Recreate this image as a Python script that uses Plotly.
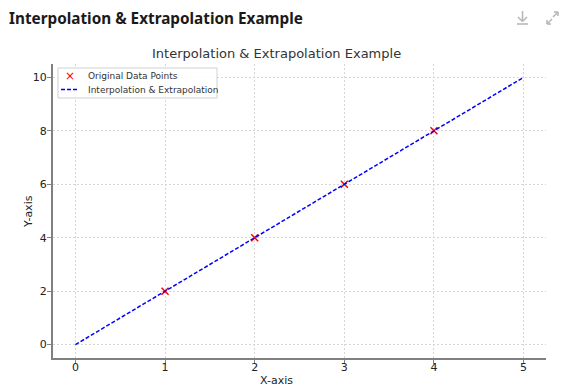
import plotly.graph_objects as go

# Data
data_x = [1, 2, 3, 4]
data_y = [2, 4, 6, 8]
line_x = [0, 1, 2, 3, 4, 5]
line_y = [0, 2, 4, 6, 8, 10]
x_ticks = [0, 1, 2, 3, 4, 5]
y_ticks = [0, 2, 4, 6, 8, 10]
series_names = ["Original Data Points", "Interpolation & Extrapolation"]

W, H = 566, 392
L, R, T, B = 53, 20, 64, 34
pw, ph = W - L - R, H - T - B

def px(x):
    return (x - L) / pw

def py(y):
    return (H - B - y) / ph

fig = go.Figure()
fig.add_trace(go.Scatter(
    x=data_x, y=data_y, mode="markers", name=series_names[0],
    marker=dict(symbol="x-thin", size=7, color="red", line=dict(color="red", width=1.5)),
))
fig.add_trace(go.Scatter(
    x=line_x, y=line_y, mode="lines", name=series_names[1],
    line=dict(color="blue", width=1.5, dash="4px,2px"),
))

axis_common = dict(
    showline=True, linecolor="#808080", linewidth=2, mirror=False,
    ticks="outside", ticklen=4, tickcolor="#808080", tickwidth=1,
    showgrid=True, gridcolor="#d6d6d6", griddash="2px,2px", gridwidth=1,
    zeroline=False, automargin=False,
    tickfont=dict(family="DejaVu Sans", size=11, color="#222"),
)

fig.update_layout(
    width=W, height=H,
    margin=dict(l=L, r=R, t=T, b=B, autoexpand=False),
    paper_bgcolor="white", plot_bgcolor="white",
    showlegend=False,
    xaxis=dict(range=[-0.25, 5.25], tickvals=x_ticks, ticklabelstandoff=-6, **axis_common),
    yaxis=dict(range=[-0.5, 10.5], tickvals=y_ticks, ticklabelstandoff=-2, **axis_common),
    font=dict(family="DejaVu Sans", color="#222"),
)

def ann(text, x, y, size, color="#222", family="DejaVu Sans", xanchor="center", angle=0):
    return dict(text=text, x=px(x), y=py(y), xref="paper", yref="paper",
                xanchor=xanchor, yanchor="middle", showarrow=False, textangle=angle,
                font=dict(family=family, size=size, color=color))

annotations = [
    ann("<b>Interpolation & Extrapolation Example</b>", 7, 18, 15.3, "#1a1a1a", "Noto Sans", "left"),
    ann("Interpolation & Extrapolation Example", 276, 53, 13, "#333"),
    ann("X-axis", 276, 380, 11),
    ann("Y-axis", 28, 212, 11, angle=-90),
    # legend texts
    ann("×", 70, 75.5, 12, "red", xanchor="center"),
    ann(series_names[0], 86, 76, 9, "#333", xanchor="left"),
    ann(series_names[1], 86, 89.5, 9, "#333", xanchor="left"),
]
fig.update_layout(annotations=annotations)

shapes = [
    # legend box
    dict(type="rect", xref="paper", yref="paper", x0=px(58), y0=py(68), x1=px(217), y1=py(98),
         line=dict(color="#d0d0d0", width=1), fillcolor="rgba(255,255,255,0.85)", layer="above"),
    dict(type="line", xref="paper", yref="paper", x0=px(61), y0=py(89.5), x1=px(79), y1=py(89.5),
         line=dict(color="blue", width=1.5, dash="4px,2px"), layer="above"),
]
icon_col = "#b8b8b8"
segs = [
    # download icon
    (522.5, 11, 522.5, 21), (518, 17, 522.5, 21.5), (527, 17, 522.5, 21.5), (517, 24, 528, 24),
    # expand icon
    (553, 17, 558, 12), (554, 12, 558, 12), (558, 12, 558, 16),
    (547, 24, 552, 19), (547, 20, 547, 24), (547, 24, 551, 24),
]
for x0, y0, x1, y1 in segs:
    shapes.append(dict(type="line", xref="paper", yref="paper",
                       x0=px(x0), y0=py(y0), x1=px(x1), y1=py(y1),
                       line=dict(color=icon_col, width=1.6)))
fig.update_layout(shapes=shapes)

fig.write_html("out.html", config={"displayModeBar": False},
               post_script="document.body.style.margin='0';document.body.style.padding='0';")
